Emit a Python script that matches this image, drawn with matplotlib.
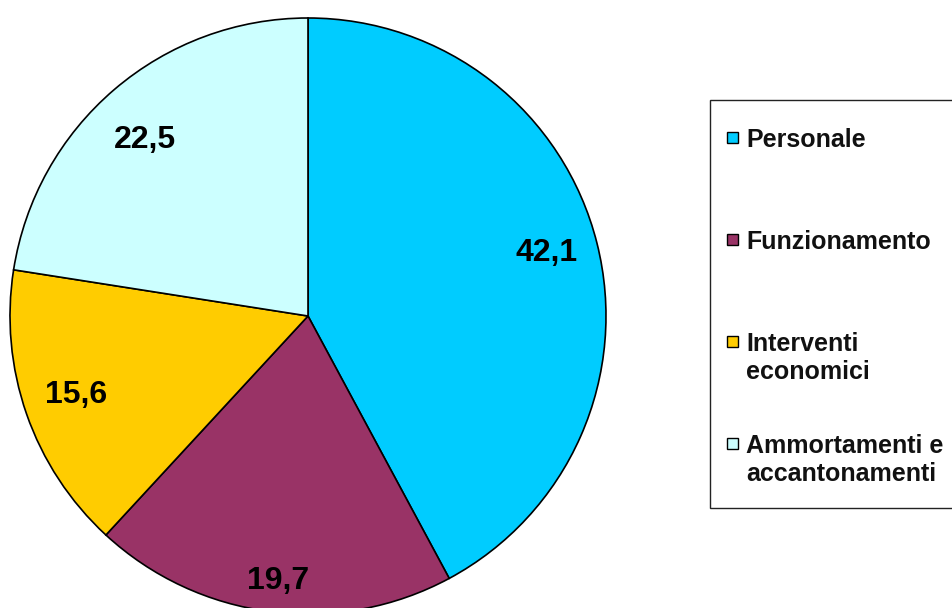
import matplotlib.pyplot as plt
from matplotlib.patches import Rectangle

plt.rcParams['font.family'] = ['Liberation Sans', 'DejaVu Sans']

# dati della torta
categorie = ['Personale', 'Funzionamento', 'Interventi\neconomici', 'Ammortamenti e\naccantonamenti']
valori = [42.1, 19.7, 15.6, 22.5]
etichette = ['42,1', '19,7', '15,6', '22,5']
colori = ['#00CCFF', '#993366', '#FFCC00', '#CCFFFF']

W, H = 952, 608
R_PX = 298  # raggio della torta in pixel
fig = plt.figure(figsize=(W / 100, H / 100), dpi=100)


def fx(px):
    return px / W


def fy(py):
    # py misurato dall'alto
    return (H - py) / H


# centro ~ (308, 316) px
ax = fig.add_axes([fx(10), fy(614), 2 * R_PX / W, 2 * R_PX / H])

wedges, testi = ax.pie(
    valori, colors=colori, startangle=90, counterclock=False,
    labels=etichette, labeldistance=0.825,
    wedgeprops=dict(edgecolor='black', linewidth=1.2),
    textprops=dict(fontsize=23, fontweight='bold', color='black'),
)
# piccoli spostamenti (px, x a destra / y in basso) per imitare Excel
spostamenti = [(0.5, -6), (2, 4.5), (0, -5), (-3, 7)]
for t, (dx, dy) in zip(testi, spostamenti):
    t.set_horizontalalignment('center')
    t.set_verticalalignment('center_baseline')
    x, y = t.get_position()
    t.set_position((x + dx / R_PX, y - dy / R_PX))
# l'etichetta 19,7 sta un po' più in basso
x, y = testi[1].get_position()
testi[1].set_position((x * 0.87 / 0.825, y * 0.87 / 0.825))

ax.set_xlim(-1, 1)
ax.set_ylim(-1, 1)
ax.set_aspect('equal')
ax.axis('off')

# legenda disegnata a mano (voci a passo costante come in Excel)
fig.add_artist(Rectangle((fx(710), fy(508)), fx(960) - fx(710), fy(100) - fy(508),
                         transform=fig.transFigure, facecolor='white',
                         edgecolor='#222222', linewidth=1.0))
base0, passo, interlinea = 147, 102, 28
for i, (cat, col) in enumerate(zip(categorie, colori)):
    b = base0 + i * passo
    fig.add_artist(Rectangle((fx(727), fy(b - 4)), 11 / W, 11 / H,
                             transform=fig.transFigure, facecolor=col,
                             edgecolor='black', linewidth=1.0))
    for j, riga in enumerate(cat.split('\n')):
        fig.text(fx(746), fy(b + j * interlinea), riga, fontsize=18, fontweight='bold',
                 ha='left', va='baseline', color='#111111')

fig.savefig('out.png', dpi=100)
